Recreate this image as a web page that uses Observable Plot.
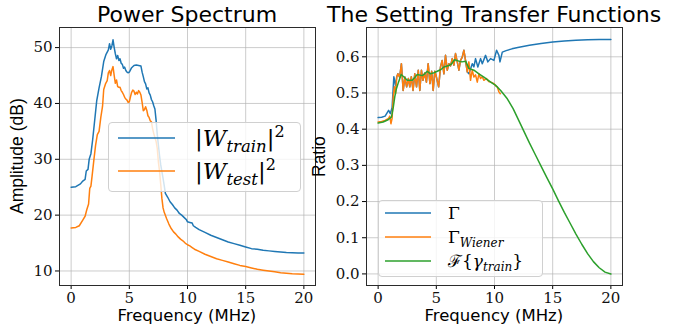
<!DOCTYPE html>
<html><head><meta charset="utf-8">
<script src="https://cdn.jsdelivr.net/npm/d3@7"></script>
<script src="https://cdn.jsdelivr.net/npm/@observablehq/plot@0.6"></script>
<style>
body{margin:0;background:#fff;}
#fig{position:relative;width:673px;height:327px;overflow:hidden;background:#fff;}
.abs{position:absolute;white-space:nowrap;color:#000;}
.title{font-family:"DejaVu Sans",sans-serif;font-size:22px;line-height:22px;}
.xlab{font-family:"DejaVu Sans",sans-serif;font-size:16.5px;line-height:16.5px;}
.ylab{font-family:"Liberation Sans Narrow","Liberation Sans",sans-serif;font-size:17.5px;line-height:17.5px;transform-origin:0 0;}
.legend{border:1px solid #d0d0d0;border-radius:4px;background:rgba(255,255,255,0.8);box-sizing:border-box;}
.ltxt{font-family:"DejaVu Serif",serif;line-height:20px;}
.ltxt sub,.ltxt sup{line-height:0;}
svg.plot{position:absolute;top:0;}
svg.plot text{font-family:"DejaVu Serif",serif !important;font-size:15px;fill:#111;}
</style></head><body><div id="fig"></div>
<script>
// ---- data ----
const xTicks = [0, 5, 10, 15, 20];
const leftYTicks = [10, 20, 30, 40, 50];
const rightYTicks = [0.0, 0.1, 0.2, 0.3, 0.4, 0.5, 0.6];

const trainFreq = [0,0.4,0.8,1.0,1.2,1.3,1.45,1.55,1.7,1.85,2.0,2.2,2.4,2.6,2.8,3.0,3.2,3.3,3.4,3.5,3.6,3.7,3.8,3.9,4.0,4.1,4.2,4.3,4.4,4.5,4.6,4.7,4.8,4.9,5.0,5.1,5.2,5.4,5.6,5.8,6.0,6.1,6.2,6.3,6.4,6.5,6.6,6.7,6.8,6.9,7.0,7.1,7.2,7.3,7.4,7.5,7.6,7.7,7.8,7.9,8.0,8.1,8.3,8.5,8.7,8.9,9.1,9.3,9.5,9.7,9.9,10.0,10.2,10.4,10.5,10.7,11,11.5,12,12.5,13,13.5,14,14.5,15,15.5,16,16.5,17,17.5,18,18.5,19,19.5,20];
const trainDb = [25.0,25.1,25.6,26.1,26.4,27.9,28.2,30.0,31.0,33.5,36.5,40.5,42.8,44.8,47.5,48.8,49.6,50.7,49.7,50.3,51.4,50.0,48.9,48.0,48.6,47.7,48.0,47.2,47.0,46.3,46.5,45.9,45.6,45.5,45.6,46.0,46.4,46.8,46.9,46.8,46.7,45.6,44.8,43.9,43.5,42.6,42.8,41.9,41.5,40.7,40.3,39.6,39.0,37.0,34.5,32.5,30.6,29.0,27.8,26.6,25.3,23.9,23.2,22.4,21.9,21.3,20.9,20.3,20.0,19.6,19.2,18.8,18.7,18.6,18.1,17.8,17.4,16.9,16.4,16.0,15.6,15.2,14.9,14.6,14.3,14.0,13.9,13.7,13.6,13.5,13.4,13.3,13.25,13.2,13.2];

const testFreq = [0,0.4,0.7,1.0,1.2,1.35,1.5,1.6,1.7,1.8,1.95,2.1,2.25,2.4,2.55,2.7,2.8,2.95,3.1,3.2,3.3,3.4,3.5,3.6,3.7,3.8,3.9,4.0,4.1,4.2,4.3,4.4,4.5,4.6,4.7,4.8,4.9,5.0,5.1,5.2,5.3,5.4,5.5,5.6,5.7,5.8,5.9,6.0,6.1,6.2,6.3,6.4,6.5,6.6,6.7,6.8,6.9,7.0,7.1,7.2,7.3,7.4,7.5,7.6,7.7,7.8,7.9,8.0,8.2,8.4,8.6,8.8,9.0,9.2,9.4,9.6,9.8,10.0,10.2,10.4,10.6,11,11.5,12,12.5,13,13.5,14,14.5,15,15.5,16,16.5,17,17.5,18,18.5,19,19.5,20];
const testDb = [17.7,17.8,18.1,19.1,19.8,21.0,22.0,24.8,25.2,27.0,29.8,32.5,34.4,35.0,37.5,39.5,42.5,43.5,44.1,45.5,45.9,45.0,46.0,46.6,45.0,43.6,44.2,43.0,42.9,42.9,42.3,42.0,41.6,41.1,40.8,40.6,40.2,40.3,41.2,42.0,42.4,42.2,41.6,42.0,41.7,42.3,42.0,41.5,40.2,38.7,38.9,39.4,38.8,37.8,37.5,36.9,36.7,35.5,34.6,33.9,33.2,32.0,29.5,27.8,25.5,23.0,21.3,20.5,19.4,18.4,17.6,17.0,16.6,16.1,15.7,15.4,15.0,14.7,14.5,14.2,13.9,13.5,13.0,12.6,12.2,11.9,11.6,11.3,11.0,10.8,10.55,10.3,10.15,10.0,9.85,9.7,9.6,9.5,9.45,9.4];

const gammaFreq = [0,0.3,0.6,0.9,1.05,1.2,1.35,1.5,1.6,1.7,1.85,2.0,2.15,2.3,2.45,2.6,2.72,2.85,3.0,3.15,3.3,3.45,3.58,3.72,3.85,4.0,4.15,4.3,4.45,4.6,4.73,4.87,5.0,5.2,5.36,5.5,5.65,5.79,5.94,6.08,6.22,6.37,6.51,6.65,6.8,6.94,7.08,7.23,7.37,7.51,7.66,7.8,8.09,8.23,8.37,8.57,8.8,8.95,9.23,9.43,9.66,9.95,10.18,10.38,10.47,10.67,11,11.5,12,13,14,15,16,17,18,19,20];
const gammaVals = [0.432,0.433,0.436,0.452,0.443,0.460,0.545,0.520,0.545,0.553,0.544,0.581,0.507,0.544,0.517,0.540,0.517,0.545,0.507,0.553,0.517,0.563,0.507,0.563,0.535,0.555,0.530,0.581,0.526,0.560,0.507,0.560,0.545,0.517,0.572,0.590,0.553,0.604,0.563,0.581,0.575,0.595,0.577,0.609,0.586,0.563,0.590,0.599,0.618,0.590,0.558,0.553,0.581,0.572,0.595,0.572,0.595,0.581,0.604,0.586,0.595,0.590,0.618,0.604,0.586,0.613,0.617,0.622,0.626,0.632,0.637,0.641,0.644,0.646,0.647,0.648,0.648];

const wienerFreq = [0,0.3,0.6,0.9,1.0,1.1,1.2,1.3,1.4,1.5,1.6,1.7,1.85,2.0,2.15,2.3,2.45,2.6,2.72,2.85,3.0,3.15,3.3,3.45,3.58,3.72,3.85,4.0,4.15,4.3,4.45,4.6,4.73,4.87,5.0,5.2,5.36,5.5,5.65,5.79,5.94,6.08,6.22,6.37,6.51,6.65,6.8,6.94,7.08,7.23,7.37,7.51,7.66,7.8,7.94,8.09,8.23,8.37,8.52,8.66,8.8,8.95,9.09,9.3,9.5,9.7,9.95,10.1,10.24,10.38,10.5];
const wienerVals = [0.420,0.421,0.424,0.430,0.436,0.415,0.430,0.490,0.517,0.498,0.545,0.553,0.544,0.581,0.507,0.544,0.517,0.540,0.517,0.545,0.507,0.553,0.517,0.563,0.507,0.563,0.535,0.555,0.530,0.581,0.526,0.560,0.507,0.560,0.545,0.517,0.572,0.590,0.553,0.604,0.563,0.581,0.575,0.595,0.577,0.609,0.586,0.563,0.590,0.599,0.618,0.590,0.558,0.586,0.535,0.563,0.544,0.550,0.530,0.553,0.540,0.545,0.535,0.540,0.532,0.530,0.526,0.520,0.517,0.503,0.498];

const filtFreq = [0,0.43,0.86,1.15,1.3,1.43,1.57,1.75,1.98,2.2,2.5,2.93,3.15,3.36,3.79,4.0,4.22,4.5,4.8,5.08,5.4,5.65,6.08,6.3,6.57,6.94,7.2,7.52,7.8,8.23,8.66,9.09,9.67,10.1,10.53,11.1,11.6,12,12.5,13,13.5,14,14.5,15,15.5,16,16.5,17,17.5,18,18.5,19,19.5,20];
const filtVals = [0.417,0.420,0.426,0.434,0.460,0.489,0.512,0.530,0.551,0.545,0.535,0.535,0.543,0.551,0.548,0.553,0.560,0.553,0.556,0.560,0.565,0.572,0.576,0.580,0.592,0.588,0.586,0.588,0.568,0.563,0.553,0.544,0.530,0.521,0.507,0.484,0.457,0.430,0.396,0.362,0.330,0.298,0.266,0.235,0.202,0.170,0.140,0.110,0.082,0.056,0.034,0.017,0.005,0.0];

const colors = {blue: "#1f77b4", orange: "#ff7f0e", green: "#2ca02c"};

// ---- helpers ----
const rows = (fs, vs) => fs.map((f, i) => ({f, v: vs[i]}));
const fig = document.getElementById("fig");

function panel({left, width, ml, mr, yDomain, yTicks, yFormat, series}) {
  const svg = Plot.plot({
    width, height: 327,
    marginLeft: ml, marginRight: mr, marginTop: 27, marginBottom: 42,
    style: {fontFamily: "'DejaVu Serif', serif", fontSize: "15px", color: "#000", background: "transparent", overflow: "visible"},
    x: {domain: [-1, 21], ticks: xTicks, tickSize: 4, tickPadding: 3, label: null, tickFormat: d3.format("d")},
    y: {domain: yDomain, ticks: yTicks, tickSize: 4, tickPadding: 3, label: null, tickFormat: yFormat},
    marks: [
      Plot.ruleX(xTicks, {stroke: "#b0b0b0", strokeOpacity: 0.65, strokeWidth: 1}),
      Plot.ruleY(yTicks, {stroke: "#b0b0b0", strokeOpacity: 0.65, strokeWidth: 1}),
      ...series.map(s => Plot.line(rows(s.f, s.v), {x: "f", y: "v", stroke: s.color, strokeWidth: 1.5})),
      Plot.frame({stroke: "#2b2b2b", strokeWidth: 1})
    ]
  });
  svg.classList.add("plot");
  svg.style.left = left + "px";
  fig.appendChild(svg);
}

panel({
  left: 0, width: 330, ml: 59, mr: 15,
  yDomain: [7.4, 53.6], yTicks: leftYTicks, yFormat: d3.format("d"),
  series: [
    {f: trainFreq, v: trainDb, color: colors.blue},
    {f: testFreq, v: testDb, color: colors.orange}
  ]
});
panel({
  left: 330, width: 343, ml: 36, mr: 51,
  yDomain: [-0.032, 0.681], yTicks: rightYTicks, yFormat: d3.format(".1f"),
  series: [
    {f: gammaFreq, v: gammaVals, color: colors.blue},
    {f: wienerFreq, v: wienerVals, color: colors.orange},
    {f: filtFreq, v: filtVals, color: colors.green}
  ]
});

// ---- text: titles, axis labels ----
function addText(cls, html, x, y, anchor) {
  const d = document.createElement("div");
  d.className = "abs " + cls;
  d.innerHTML = html;
  fig.appendChild(d);
  const w = d.offsetWidth, h = d.offsetHeight;
  d.style.left = (anchor === "center" ? x - w / 2 : x) + "px";
  d.style.top = (y - h / 2) + "px";
  return d;
}
addText("title", "Power Spectrum", 187, 15, "center");
addText("title", "The Setting Transfer Functions", 494, 15, "center");
addText("xlab", "Frequency (MHz)", 187, 316.5, "center");
addText("xlab", "Frequency (MHz)", 494, 316.5, "center");

function addYLabel(text, cx, cy) {
  const d = document.createElement("div");
  d.className = "abs ylab";
  d.textContent = text;
  fig.appendChild(d);
  const w = d.offsetWidth, h = d.offsetHeight;
  d.style.left = (cx - h / 2) + "px";
  d.style.top = (cy + w / 2) + "px";
  d.style.transform = "rotate(-90deg)";
}
addYLabel("Amplitude (dB)", 18, 156);
addYLabel("Ratio", 320, 156);

// ---- legends ----
function legend(box, entries) {
  const d = document.createElement("div");
  d.className = "abs legend";
  Object.assign(d.style, {left: box.x + "px", top: box.y + "px", width: box.w + "px", height: box.h + "px"});
  fig.appendChild(d);
  entries.forEach(e => {
    const ns = "http://www.w3.org/2000/svg";
    const s = document.createElementNS(ns, "svg");
    s.setAttribute("width", e.x2 - e.x1);
    s.setAttribute("height", 4);
    s.style.position = "absolute";
    s.style.left = (e.x1 - box.x - 1) + "px";
    s.style.top = (e.y - box.y - 1 - 2) + "px";
    const l = document.createElementNS(ns, "line");
    l.setAttribute("x1", 0); l.setAttribute("x2", e.x2 - e.x1);
    l.setAttribute("y1", 2); l.setAttribute("y2", 2);
    l.setAttribute("stroke", e.color); l.setAttribute("stroke-width", 1.5);
    s.appendChild(l);
    d.appendChild(s);
    const t = document.createElement("div");
    t.className = "abs ltxt";
    t.style.fontSize = e.size + "px";
    t.innerHTML = e.html;
    d.appendChild(t);
    t.style.left = (e.tx - box.x - 1) + "px";
    t.style.top = (e.y - box.y - 1 - t.offsetHeight / 2) + "px";
  });
}
legend({x: 108, y: 122, w: 193, h: 70}, [
  {color: colors.blue, x1: 118, x2: 175, y: 138, tx: 195, size: 23,
   html: "|<i>W</i><sub style='font-size:16.5px'><i>train</i></sub>|<sup style='font-size:16px'>2</sup>"},
  {color: colors.orange, x1: 118, x2: 175, y: 171, tx: 195, size: 23,
   html: "|<i>W</i><sub style='font-size:16.5px'><i>test</i></sub>|<sup style='font-size:16px'>2</sup>"}
]);
legend({x: 378, y: 200, w: 165, h: 77}, [
  {color: colors.blue, x1: 385, x2: 431, y: 212.7, tx: 448, size: 17, html: "Γ"},
  {color: colors.orange, x1: 385, x2: 431, y: 236.7, tx: 448, size: 17,
   html: "Γ<sub style='font-size:12px'><i>Wiener</i></sub>"},
  {color: colors.green, x1: 385, x2: 431, y: 260.7, tx: 448, size: 17,
   html: "ℱ{<i>γ</i><sub style='font-size:12px'><i>train</i></sub>}"}
]);
</script>
</body></html>
